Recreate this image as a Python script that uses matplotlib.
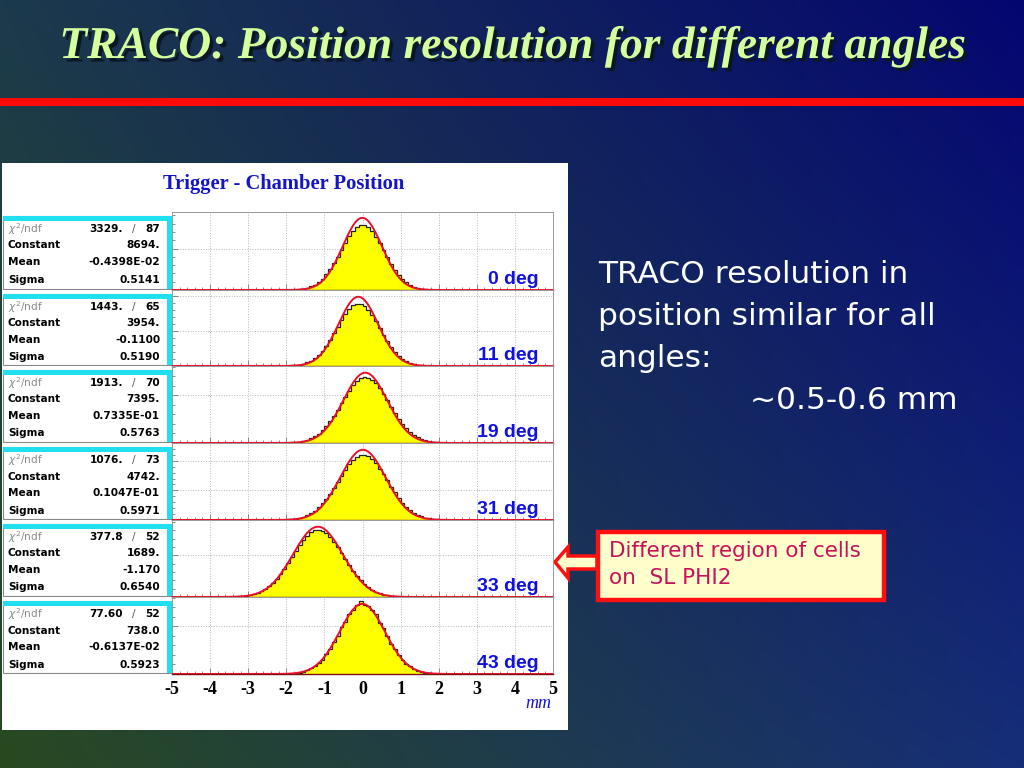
import matplotlib
matplotlib.use("Agg")
import matplotlib.pyplot as plt
import matplotlib.patheffects as pe
import numpy as np
from matplotlib.patches import Rectangle, Polygon
from matplotlib.ticker import MultipleLocator

plt.rcParams["axes.unicode_minus"] = False

W, H = 1024, 768

# --- data ----------------------------------------------------------------
angles = ["0 deg", "11 deg", "19 deg", "31 deg", "33 deg", "43 deg"]
chi2 = ["3329.", "1443.", "1913.", "1076.", "377.8", "77.60"]
ndf = ["87", "65", "70", "73", "52", "52"]
constants = [8694.0, 3954.0, 7395.0, 4742.0, 1689.0, 738.0]
const_txt = ["8694.", "3954.", "7395.", "4742.", "1689.", "738.0"]
means = [-0.4398e-02, -0.1100, 0.7335e-01, 0.1047e-01, -1.170, -0.6137e-02]
mean_txt = ["-0.4398E-02", "-0.1100", "0.7335E-01", "0.1047E-01", "-1.170", "-0.6137E-02"]
sigmas = [0.5141, 0.5190, 0.5763, 0.5971, 0.6540, 0.5923]
sigma_txt = ["0.5141", "0.5190", "0.5763", "0.5971", "0.6540", "0.5923"]
ymax = [9400, 4340, 8100, 5200, 1850, 810]
ygrid = [5000, 2000, 5000, 2000, 1000, 500]

# first bin edge of each histogram, bin width 0.1 mm
bin_start = [-2.0, -2.1, -2.0, -2.2, -3.6, -2.0]
counts_0 = [15, 30, 55, 100, 175, 290, 440, 660, 960, 1380, 1890, 2510, 3230, 4020,
            4850, 5700, 6480, 7120, 7600, 7830, 7850, 7560, 7080, 6440, 5660, 4830,
            3990, 3190, 2470, 1850, 1340, 940, 640, 420, 270, 165, 95, 55, 28, 14]
counts_11 = [9, 16, 29, 49, 81, 131, 204, 307, 449, 636, 873, 1159, 1491, 1858, 2243,
             2622, 2970, 3257, 3461, 3561, 3550, 3427, 3206, 2904, 2549, 2165, 1782,
             1421, 1097, 820, 595, 418, 284, 187, 119, 74, 44, 26, 14, 8]
counts_19 = [34, 57, 92, 146, 226, 340, 499, 713, 992, 1346, 1780, 2292, 2876, 3518,
             4190, 4863, 5500, 6058, 6505, 6805, 6935, 6887, 6663, 6281, 5768, 5163,
             4502, 3825, 3165, 2553, 2005, 1536, 1146, 833, 590, 407, 273, 179, 114,
             71, 43, 25]
counts_31 = [15, 25, 40, 64, 100, 152, 225, 326, 460, 634, 851, 1116, 1429, 1784, 2174,
             2585, 3001, 3398, 3756, 4052, 4264, 4381, 4391, 4296, 4101, 3820, 3474,
             3081, 2668, 2254, 1858, 1496, 1174, 900, 673, 491, 350, 243, 165, 109, 70,
             44, 27, 16]
counts_33 = [3, 5, 8, 13, 20, 31, 47, 70, 100, 141, 193, 260, 341, 439, 553, 680, 818,
             962, 1107, 1246, 1371, 1475, 1553, 1599, 1610, 1584, 1526, 1436, 1323, 1191,
             1050, 904, 761, 627, 505, 398, 307, 231, 171, 123, 87, 60, 40, 27, 17, 11,
             7, 4, 2]
counts_43 = [3, 5, 9, 15, 24, 37, 58, 80, 116, 150, 210, 262, 338, 402, 490, 551, 630,
             672, 722, 765, 728, 720, 668, 628, 540, 480, 405, 318, 262, 195, 151, 104,
             79, 51, 36, 22, 14, 9, 5, 3]
all_counts = [counts_0, counts_11, counts_19, counts_31, counts_33, counts_43]

panel_top = [212, 290, 366, 443, 520, 597]
panel_bot = [290, 366, 443, 520, 597, 674]


def px_axes(x0, y0, x1, y1, **kw):
    return fig.add_axes([x0 / W, 1 - y1 / H, (x1 - x0) / W, (y1 - y0) / H], **kw)


fig = plt.figure(figsize=(W / 100, H / 100), dpi=100)

# slide background
bg = px_axes(0, 0, W, H, zorder=-5)
bg.set_xlim(0, W)
bg.set_ylim(H, 0)
bg.axis("off")
u = np.linspace(0, 1, 256)[None, :, None]
v = np.linspace(0, 1, 192)[:, None, None]
tl = np.array([28, 58, 76]) / 255
tr = np.array([4, 6, 112]) / 255
bl = np.array([40, 74, 32]) / 255
br = np.array([22, 46, 120]) / 255
grad = (1 - v) * ((1 - u) * tl + u * tr) + v * ((1 - u) * bl + u * br)
bg.imshow(grad, extent=(0, W, H, 0), aspect="auto", interpolation="bilinear")

# slide title and red rule
title = "TRACO: Position resolution for different angles"
bg.text(512, 47, title, ha="center", va="center", fontsize=32.8, color="#d4ff9c",
        family="Liberation Serif", weight="bold", style="italic",
        path_effects=[pe.withSimplePatchShadow(offset=(2.5, -2.5),
                                               shadow_rgbFace="#0b1626", alpha=1)])
bg.add_patch(Rectangle((0, 98), W, 8, color="#ff0a0a", lw=0))

# white picture area
bg.add_patch(Rectangle((2, 163), 566, 567, facecolor="white", edgecolor="none"))
bg.text(284, 184, "Trigger - Chamber Position", ha="center", va="center",
        fontsize=14.8, color="#1414c8", family="Liberation Serif", weight="bold")

xfit = np.linspace(-5, 5, 600)
for i in range(6):
    top, bot = panel_top[i], panel_bot[i]

    # stats box
    sb = px_axes(0, top, 172, bot)
    sb.set_xlim(0, 172)
    sb.set_ylim(bot - top, 0)
    sb.axis("off")
    sb.add_patch(Rectangle((3, 4), 169, bot - top - 5, facecolor="white",
                           edgecolor="#888888", lw=0.8))
    sb.add_patch(Rectangle((3, 4), 169, 5, color="#20e0f0", lw=0))
    sb.add_patch(Rectangle((167, 4), 5, bot - top - 5, color="#20e0f0", lw=0))
    fs = 7.6
    sb.text(8, 17, r"$\chi^2$/ndf", fontsize=fs, color="#8a8a8a", va="center",
            family="DejaVu Sans")
    sb.text(123, 17, chi2[i], fontsize=fs, weight="bold", ha="right", va="center")
    sb.text(134, 17, "/", fontsize=fs, color="#555555", ha="center", va="center")
    sb.text(160, 17, ndf[i], fontsize=fs, weight="bold", ha="right", va="center")
    rows = [("Constant", const_txt[i]), ("Mean", mean_txt[i]), ("Sigma", sigma_txt[i])]
    for (name, val), yy in zip(rows, [33.5, 50, 67.5]):
        sb.text(8, yy, name, fontsize=fs, weight="bold", va="center")
        sb.text(160, yy, val, fontsize=fs, weight="bold", ha="right", va="center")

    # histogram panel
    ax = px_axes(172, top, 553, bot)
    counts = np.array(all_counts[i], dtype=float)
    edges = bin_start[i] + 0.1 * np.arange(len(counts) + 1)
    ax.stairs(counts, edges, fill=True, color="#ffff00", zorder=2)
    ax.stairs(counts, edges, color="#222222", lw=0.9, zorder=3)
    fit = constants[i] * np.exp(-0.5 * ((xfit - means[i]) / sigmas[i]) ** 2)
    ax.plot(xfit, fit, color="#e8102a", lw=1.4, zorder=4)
    ax.set_xlim(-5, 5)
    ax.set_ylim(0, ymax[i])
    ax.xaxis.set_major_locator(MultipleLocator(1))
    ax.xaxis.set_minor_locator(MultipleLocator(0.2))
    ax.yaxis.set_major_locator(MultipleLocator(ygrid[i]))
    ax.yaxis.set_minor_locator(MultipleLocator(ygrid[i] / 5))
    ax.tick_params(which="both", direction="in", color="#777777", width=0.6)
    ax.tick_params(which="major", length=4)
    ax.tick_params(which="minor", length=2)
    ax.tick_params(axis="y", labelleft=False)
    ax.grid(True, which="major", linestyle=":", color="#b8b8b8", lw=0.7, zorder=1)
    for s in ax.spines.values():
        s.set_color("#999999")
        s.set_linewidth(0.7)
    ax.spines["bottom"].set_color("#7a1010")
    ax.spines["bottom"].set_linewidth(1.0)
    ax.text(0.962, 0.03, angles[i], transform=ax.transAxes, ha="right", va="bottom",
            fontsize=14, weight="bold", color="#1010e0", family="Liberation Sans",
            zorder=5)
    if i < 5:
        ax.tick_params(axis="x", labelbottom=False)
    else:
        ax.tick_params(axis="x", labelbottom=True, pad=5)
        for lab in ax.get_xticklabels():
            lab.set_family("Liberation Serif")
            lab.set_weight("bold")
            lab.set_fontsize(13)

bg.text(538, 703, "mm", ha="center", va="center", fontsize=13, color="#1414c8",
        family="Liberation Serif", style="italic")

# text on the right
lines = ["TRACO resolution in", "position similar for all", "angles:"]
for k, line in enumerate(lines):
    bg.text(598, 283 + 42 * k, line, fontsize=22.5, color="white",
            family="DejaVu Sans", va="baseline")
bg.text(750, 409, "~0.5-0.6 mm", fontsize=22.5, color="white",
        family="DejaVu Sans", va="baseline")

# call-out box with arrow
bg.add_patch(Rectangle((598, 532), 286, 68, facecolor="#ffffcc", edgecolor="#ff1010",
                       lw=3.2, zorder=3))
bg.text(609, 551, "Different region of cells", fontsize=15.5, color="#c8105a",
        va="center", family="DejaVu Sans", zorder=4)
bg.text(609, 578, "on  SL PHI2", fontsize=15.5, color="#c8105a",
        va="center", family="DejaVu Sans", zorder=4)
arrow = [(555, 562), (568, 547), (568, 556), (597, 556), (597, 569), (568, 569),
         (568, 578)]
bg.add_patch(Polygon(arrow, closed=True, facecolor="#ffffcc", edgecolor="#ff1010",
                     lw=2.5, zorder=2))

fig.savefig("out.png", dpi=100)
